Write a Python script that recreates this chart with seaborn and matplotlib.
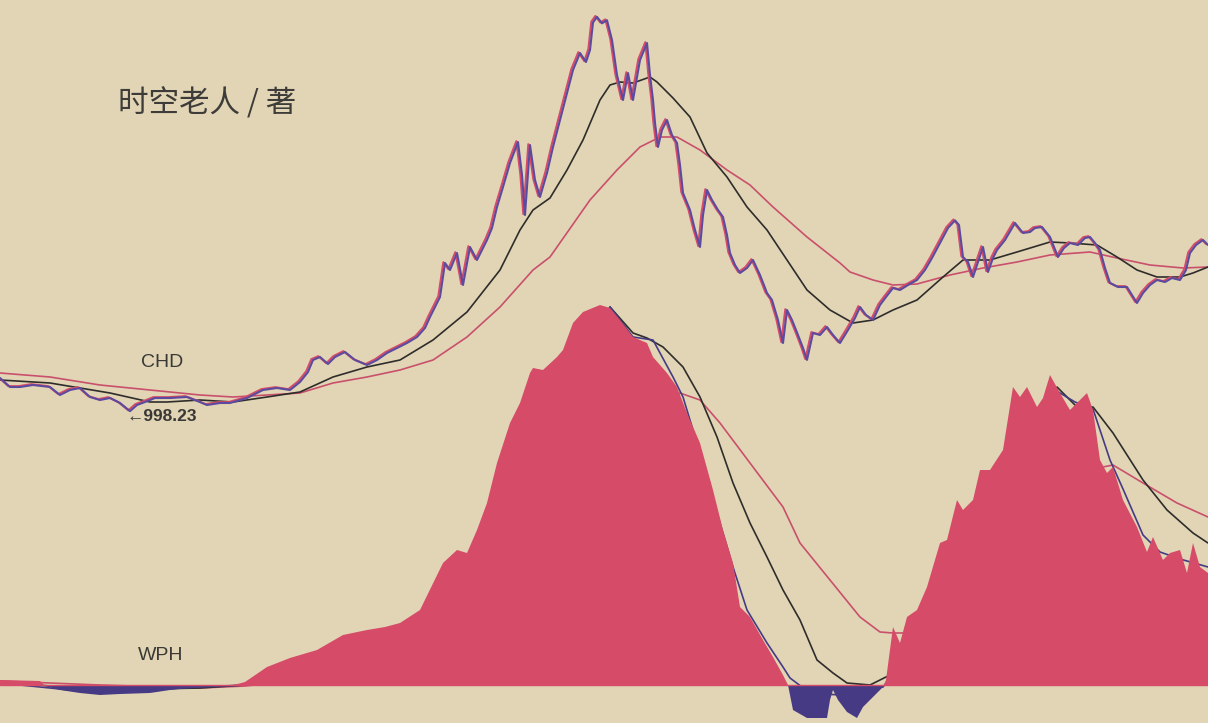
import matplotlib
matplotlib.use("Agg")
import matplotlib.pyplot as plt
import matplotlib.transforms as mtransforms
import numpy as np
import pandas as pd
import seaborn as sns

# CHD index: trading day number and close
chd_day = [0, 10, 20, 33, 50, 60, 70, 80, 90, 100, 110, 120, 130, 137, 145, 155, 170, 187, 200, 207,
           220, 230, 247, 263, 277, 290, 300, 308, 313, 320, 328, 335, 345, 355, 367, 377, 387, 397, 407, 417,
           425, 430, 436, 440, 445, 450, 457, 463, 470, 477, 487, 492, 497, 503, 510, 518, 522, 525, 530, 535,
           540, 547, 553, 560, 567, 573, 580, 586, 590, 593, 597, 602, 607, 612, 617, 623, 628, 633, 640, 647,
           650, 653, 655, 658, 662, 667, 672, 677, 680, 683, 690, 695, 700, 703, 707, 712, 718, 723, 727, 730,
           735, 740, 747, 753, 760, 767, 772, 778, 783, 787, 792, 798, 803, 807, 813, 820, 827, 833, 840, 848,
           855, 860, 866, 873, 880, 886, 893, 900, 908, 917, 925, 932, 940, 948, 955, 959, 963, 968, 973, 978,
           983, 988, 993, 997, 1005, 1015, 1023, 1030, 1035, 1042, 1050, 1058, 1064, 1070, 1078, 1085, 1090, 1095, 1100, 1105,
           1110, 1118, 1127, 1132, 1137, 1143, 1150, 1157, 1165, 1172, 1180, 1186, 1190, 1196, 1203, 1208]
chd_close = [1429, 1312, 1312, 1338, 1312, 1208, 1273, 1299, 1182, 1143, 1169, 1104, 998, 1078, 1117, 1169, 1169, 1182, 1117, 1078,
             1104, 1104, 1169, 1273, 1299, 1273, 1377, 1507, 1663, 1702, 1611, 1702, 1767, 1663, 1598, 1663, 1754, 1819, 1884, 1962,
             2079, 2222, 2378, 2482, 2924, 2833, 3054, 2638, 3132, 2963, 3223, 3379, 3652, 3912, 4224, 4497, 4068, 3548, 4458, 4003,
             3782, 4094, 4432, 4783, 5134, 5433, 5654, 5537, 5693, 6050, 6124, 6040, 6080, 5823, 5368, 5043, 5394, 5043, 5563, 5784,
             5368, 5043, 4744, 4432, 4653, 4783, 4588, 4484, 4198, 3834, 3613, 3353, 3132, 3548, 3873, 3743, 3613, 3522, 3288, 3054,
             2898, 2794, 2859, 2963, 2768, 2534, 2443, 2183, 1884, 2313, 2183, 1988, 1819, 1664, 2014, 1988, 2092, 1988, 1884, 2053,
             2209, 2352, 2248, 2183, 2378, 2482, 2599, 2573, 2638, 2703, 2833, 2989, 3184, 3379, 3478, 3418, 3002, 2937, 2742, 2937,
             3132, 2807, 2989, 3093, 3223, 3444, 3314, 3327, 3379, 3392, 3262, 3002, 3119, 3184, 3158, 3249, 3262, 3184, 3093, 2859,
             2664, 2612, 2612, 2508, 2404, 2534, 2638, 2703, 2677, 2729, 2703, 2833, 3054, 3158, 3223, 3158]

# medium moving average of CHD
ma_mid_day = [0, 50, 80, 110, 150, 167, 200, 233, 267, 300, 333, 367, 400, 433, 467, 500, 520, 533, 550, 567,
              583, 600, 610, 620, 633, 650, 657, 673, 690, 707, 727, 747, 767, 787, 807, 830, 853, 873, 893, 917,
              943, 963, 990, 1017, 1050, 1070, 1097, 1117, 1137, 1157, 1180, 1193, 1208]
ma_mid = [1403, 1364, 1299, 1234, 1117, 1117, 1143, 1117, 1182, 1247, 1442, 1572, 1663, 1923, 2287, 2833, 3353, 3613, 3769, 4133,
          4523, 5043, 5238, 5277, 5264, 5342, 5277, 5069, 4822, 4354, 4042, 3652, 3353, 2963, 2573, 2313, 2144, 2183, 2313, 2443,
          2742, 2963, 2963, 3067, 3197, 3184, 3158, 3002, 2833, 2742, 2742, 2794, 2872]

# long moving average of CHD
ma_long_day = [0, 50, 100, 150, 200, 233, 267, 300, 333, 367, 400, 433, 467, 500, 533, 550, 590, 617, 640, 660,
               677, 700, 727, 750, 773, 807, 840, 850, 873, 893, 917, 950, 983, 1017, 1050, 1090, 1117, 1150, 1183, 1208]
ma_long = [1494, 1442, 1338, 1273, 1208, 1182, 1208, 1234, 1364, 1442, 1533, 1663, 1962, 2352, 2833, 3002, 3743, 4133, 4432, 4562,
           4562, 4393, 4133, 3938, 3652, 3262, 2924, 2807, 2703, 2638, 2651, 2768, 2859, 2937, 3028, 3067, 2989, 2898, 2859, 2872]

# WPH oscillator
wph_day = [0, 40, 45, 60, 80, 100, 120, 150, 170, 185, 200, 215, 230, 245, 267, 290, 317, 343, 367, 385,
           400, 420, 443, 457, 467, 477, 487, 497, 510, 520, 530, 533, 543, 557, 563, 573, 583, 600, 610, 620,
           633, 647, 653, 667, 677, 687, 700, 713, 723, 733, 740, 750, 763, 773, 783, 788, 793, 807, 827, 830,
           833, 838, 847, 857, 863, 873, 883, 886, 893, 900, 907, 917, 927, 940, 947, 957, 963, 973, 980, 990,
           1003, 1013, 1020, 1027, 1037, 1043, 1050, 1060, 1070, 1087, 1093, 1100, 1107, 1113, 1123, 1137, 1147, 1153, 1163, 1170,
           1180, 1187, 1193, 1200, 1208]
wph = [5, 4, -1, -5, -8, -10, -9, -8, -5, -3, -2, -1, -1, 3, 18, 27, 35, 50, 55, 58,
       62, 75, 122, 135, 132, 155, 182, 222, 262, 282, 312, 317, 315, 328, 335, 362, 373, 380, 377, 365,
       348, 342, 328, 312, 298, 272, 242, 195, 155, 122, 78, 68, 45, 28, 10, 0, -25, -33, -33, -15,
       -5, -15, -27, -33, -22, -12, -2, 5, 58, 42, 68, 75, 98, 142, 145, 185, 175, 185, 215, 215,
       235, 298, 288, 298, 278, 287, 310, 292, 275, 292, 275, 225, 212, 218, 185, 158, 133, 148, 125, 132,
       135, 112, 142, 118, 112]

wph_fast_day = [0, 100, 200, 245, 300, 400, 500, 560, 600, 610, 633, 653, 673, 683, 693, 707, 720, 733, 747, 767,
                783, 790, 810, 840, 860, 883, 900, 950, 1000, 1040, 1055, 1075, 1093, 1100, 1110, 1123, 1143, 1160, 1180, 1208]
wph_fast = [2, -8, -2, 0, 12, 40, 150, 265, 362, 378, 348, 345, 308, 288, 255, 208, 162, 118, 75, 42,
            18, 7, -8, -10, -6, -2, 20, 110, 190, 260, 295, 283, 276, 255, 225, 196, 150, 133, 126, 118]

wph_mid_day = [0, 100, 200, 245, 300, 400, 500, 560, 600, 610, 633, 647, 663, 683, 700, 717, 733, 750, 767, 783,
               800, 817, 833, 847, 870, 900, 950, 1000, 1040, 1057, 1077, 1093, 1113, 1143, 1167, 1193, 1208]
wph_mid = [3, -5, -3, 0, 10, 35, 140, 255, 350, 378, 352, 347, 338, 318, 288, 248, 202, 162, 128, 95,
           65, 25, 12, 2, 0, 15, 90, 180, 255, 298, 278, 278, 252, 205, 175, 152, 142]

wph_slow_day = [0, 100, 200, 245, 300, 400, 500, 560, 600, 640, 680, 700, 720, 750, 783, 800, 830, 860, 880, 893,
                910, 950, 1000, 1050, 1090, 1103, 1113, 1143, 1177, 1208]
wph_slow = [4, 0, -3, -1, 5, 25, 90, 170, 230, 270, 292, 285, 262, 222, 178, 142, 105, 68, 53, 52,
            52, 75, 120, 170, 205, 218, 220, 202, 182, 168]

BG = "#E2D5B5"
PINK = "#D64B68"
NAVY = "#463A84"
PURPLE = "#5B4B9F"
DARK = "#2E2D2B"
RED_LINE = "#C9506C"

sns.set_theme(style="white")
plt.rcParams["font.family"] = ["Noto Sans CJK SC", "DejaVu Sans"]

fig = plt.figure(figsize=(12.08, 7.23), dpi=100)
fig.patch.set_facecolor(BG)
ax_w = fig.add_axes([0, 0, 1, 1])
ax_p = fig.add_axes([0, 0, 1, 1], sharex=ax_w)
ax_w.set_facecolor(BG)
ax_p.patch.set_alpha(0)

# ---- lower panel: WPH (lines sit under the filled area) ----
day = np.array(wph_day)
val = np.array(wph)
for d, v, c in [(wph_slow_day, wph_slow, RED_LINE), (wph_mid_day, wph_mid, DARK), (wph_fast_day, wph_fast, NAVY)]:
    sns.lineplot(x=d, y=v, color=c, lw=1.2, sort=False, ax=ax_w, zorder=1)
ax_w.fill_between(day, 0, val, where=val >= 0, interpolate=True, color=PINK, lw=0, zorder=2)
ax_w.fill_between(day, 0, val, where=val <= 0, interpolate=True, color=NAVY, lw=0, zorder=2)
ax_w.axhline(0, color=PINK, lw=1, zorder=2)
ax_w.set_ylim(-38, 685)

# ---- upper panel: CHD ----
sns.lineplot(x=ma_long_day, y=ma_long, color=RED_LINE, lw=1.2, sort=False, ax=ax_p)
sns.lineplot(x=ma_mid_day, y=ma_mid, color=DARK, lw=1.2, sort=False, ax=ax_p)
sns.lineplot(x=chd_day, y=chd_close, color=PINK, lw=1.5, sort=False, ax=ax_p)
ax_p.lines[-1].set_transform(mtransforms.offset_copy(ax_p.transData, fig=fig, x=-1.2, y=0.6, units="points"))
sns.lineplot(x=chd_day, y=chd_close, color=PURPLE, lw=1.5, sort=False, ax=ax_p)
ax_p.set_ylim(-3056, 6343)
ax_p.set_xlim(0, 1208)

for a in (ax_w, ax_p):
    a.set_axis_off()

ax_p.text(0.098, 0.856, "时空老人 / 著", transform=ax_p.transAxes, fontsize=22,
          color="#3E3C39", va="center", ha="left")
ax_p.text(0.134, 0.498, "CHD", transform=ax_p.transAxes, fontsize=14, color="#3A3936",
          ha="center", va="center", family=["Liberation Sans", "DejaVu Sans"])
ax_p.text(0.133, 0.093, "WPH", transform=ax_p.transAxes, fontsize=14, color="#3A3936",
          ha="center", va="center", family=["Liberation Sans", "DejaVu Sans"])
ax_p.text(0.105, 0.424, "←998.23", transform=ax_p.transAxes, fontsize=12.5, color="#3A3936",
          ha="left", va="center", fontweight="bold", family=["Liberation Sans", "DejaVu Sans"])

fig.savefig("out.png", dpi=100, facecolor=BG)
